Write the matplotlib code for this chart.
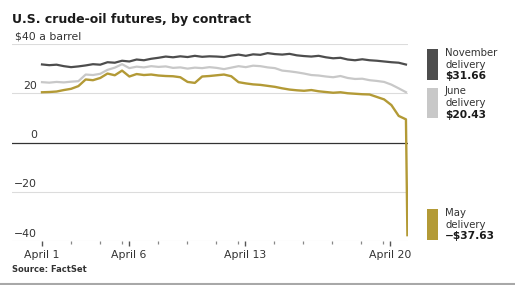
import numpy as np
import matplotlib
matplotlib.use("Agg")
import matplotlib.pyplot as plt
from matplotlib.patches import Rectangle
from matplotlib.lines import Line2D

# ---------------- data ----------------
t = np.linspace(0, 12.55, 51)          # trading-day index (April 1 = 0)
t_may_end = 12.6

nov = [31.7, 31.4, 31.6, 31.0, 30.6, 30.9, 31.3, 31.8, 31.6, 32.6,
       32.4, 33.2, 32.9, 33.7, 33.4, 34.0, 34.4, 34.9, 34.6, 35.0,
       34.7, 35.2, 34.8, 35.0, 34.9, 34.7, 35.3, 35.7, 35.2, 35.8,
       35.6, 36.3, 35.9, 35.7, 36.0, 35.4, 35.1, 34.9, 35.2, 34.6,
       34.2, 34.4, 33.7, 33.4, 33.8, 33.4, 33.2, 32.9, 32.6, 32.4, 31.66]
june = [24.5, 24.3, 24.6, 24.4, 24.7, 24.9, 27.6, 27.4, 27.9, 29.5,
        30.4, 31.8, 30.2, 30.8, 30.5, 31.0, 30.7, 30.9, 30.3, 30.5,
        30.0, 30.4, 30.2, 30.6, 30.3, 29.8, 30.4, 31.0, 30.6, 31.2,
        31.0, 30.5, 30.2, 29.2, 28.9, 28.5, 28.0, 27.4, 27.2, 26.8,
        26.5, 27.0, 26.2, 25.8, 25.9, 25.3, 25.0, 24.6, 23.5, 22.0, 20.43]
may = [20.4, 20.5, 20.7, 21.3, 21.8, 22.9, 25.6, 25.3, 26.2, 28.0,
       27.3, 29.2, 26.8, 27.8, 27.4, 27.6, 27.2, 27.0, 26.9, 26.5,
       24.6, 24.2, 26.8, 27.0, 27.3, 27.6, 26.9, 24.5, 24.0, 23.6,
       23.4, 23.0, 22.6, 22.0, 21.5, 21.2, 21.0, 21.3, 20.8, 20.5,
       20.2, 20.4, 20.0, 19.8, 19.6, 19.5, 18.5, 17.5, 15.2, 10.8, 9.4]
may_end = -37.63

series_names = ["November", "June", "May"]
series_last = ["$31.66", "$20.43", "\u2212$37.63"]

yticks = [40, 20, 0, -20, -40]
ylabels = ["$40 a barrel", "20", "0", "\u221220", "\u221240"]

xmajor = [0, 3, 7, 12]
xmajor_labels = ["April 1", "April 6", "April 13", "April 20"]
xminor = [1, 2, 2.75, 4, 5, 6, 6.75, 8, 9, 10, 11, 11.75]

# ---------------- style ----------------
W, H = 515, 285
C_NOV = "#4d4d4d"
C_JUN = "#c8c8c8"
C_MAY = "#b39a36"
FONT = "DejaVu Sans"
plt.rcParams["font.family"] = [FONT]

def fx(px):
    return px / W

def fy(py):
    return 1 - py / H

fig = plt.figure(figsize=(W / 100, H / 100), dpi=100)
ax = fig.add_axes([fx(12), fy(241), fx(408) - fx(12), fy(44) - fy(241)])

t_may = np.append(t, t_may_end)
may_full = np.append(may, may_end)

ax.plot(t, nov, color=C_NOV, lw=1.6, solid_joinstyle="round", zorder=3)
ax.plot(t, june, color=C_JUN, lw=1.6, solid_joinstyle="round", zorder=3)
ax.plot(t_may, may_full, color=C_MAY, lw=1.7, solid_joinstyle="round", zorder=4)

x0 = (12 - 42) / 29.0
x1 = (408 - 42) / 29.0
ax.set_xlim(x0, x1)
ax.set_ylim(-40, 40)

for v in yticks:
    if v == 0:
        ax.axhline(v, color="#333333", lw=0.9, zorder=2)
    else:
        ax.axhline(v, color="#dcdcdc", lw=0.8, zorder=1)

for v, lab in zip(yticks, ylabels):
    if lab.startswith("$"):
        ax.text(0.008, v + 1.0, lab, transform=ax.get_yaxis_transform(),
                ha="left", va="bottom", fontsize=7.8, color="#333333")
    else:
        ax.text(0.064, v + 1.0, lab, transform=ax.get_yaxis_transform(),
                ha="right", va="bottom", fontsize=7.8, color="#333333")

for s in ax.spines.values():
    s.set_visible(False)
ax.set_yticks([])
ax.set_xticks(xmajor)
ax.set_xticklabels(xmajor_labels, fontsize=7.8, color="#333333")
ax.set_xticks(xminor, minor=True)
ax.tick_params(axis="x", which="major", length=3.5, width=1.0, color="#555555", pad=3)
ax.tick_params(axis="x", which="minor", length=2.2, width=0.9, color="#888888")

# Title and source
fig.text(fx(12), fy(19), "U.S. crude-oil futures, by contract", fontsize=9,
         fontweight="bold", color="#1a1a1a", ha="left", va="center")
fig.text(fx(12), fy(269), "Source: FactSet", fontsize=6, fontweight="bold",
         color="#333333", ha="left", va="center")

# Legend-like labels at right
rects = [(49, 80), (88, 118), (209, 240)]
colors = [C_NOV, C_JUN, C_MAY]
line_offsets = [3.5, 15.5, 27.0]
LFS = 7.3
for (top, bot), c, name, last in zip(rects, colors, series_names, series_last):
    fig.add_artist(Rectangle((fx(427), fy(bot)), fx(438) - fx(427), fy(top) - fy(bot),
                             transform=fig.transFigure, facecolor=c, edgecolor="none"))
    fig.text(fx(445), fy(top + line_offsets[0]), name, fontsize=LFS, color="#333333",
             ha="left", va="center")
    fig.text(fx(445), fy(top + line_offsets[1]), "delivery", fontsize=LFS, color="#333333",
             ha="left", va="center")
    fig.text(fx(445), fy(top + line_offsets[2]), last, fontsize=LFS + 0.4, fontweight="bold",
             color="#1a1a1a", ha="left", va="center")

# bottom rule
fig.add_artist(Line2D([0, 1], [fy(284), fy(284)], transform=fig.transFigure,
                      color="#a8a8a8", lw=1.5))

fig.savefig("out.png", dpi=100)
